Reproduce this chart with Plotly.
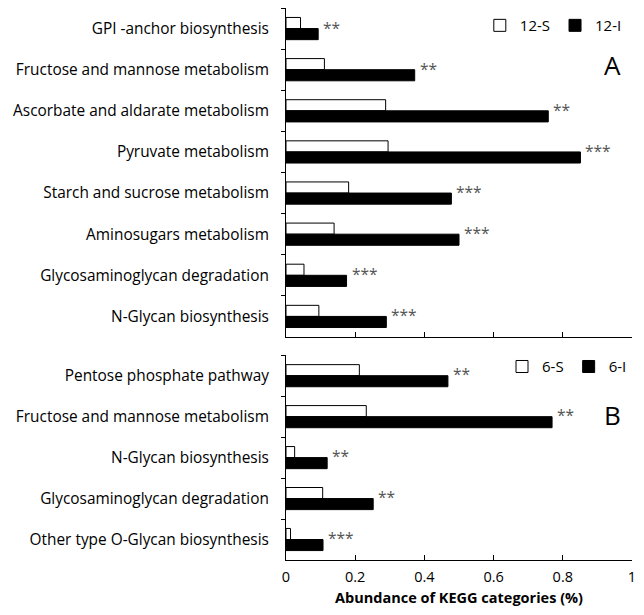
import plotly.graph_objects as go
from plotly.subplots import make_subplots

# Panel A data
cats_a = ["GPI -anchor biosynthesis", "Fructose and mannose metabolism",
          "Ascorbate and aldarate metabolism", "Pyruvate metabolism",
          "Starch and sucrose metabolism", "Aminosugars metabolism",
          "Glycosaminoglycan degradation", "N-Glycan biosynthesis"]
s12 = [0.042, 0.111, 0.288, 0.295, 0.181, 0.139, 0.052, 0.095]
i12 = [0.093, 0.372, 0.758, 0.851, 0.478, 0.500, 0.175, 0.290]
sig_a = ["**", "**", "**", "***", "***", "***", "***", "***"]

# Panel B data
cats_b = ["Pentose phosphate pathway", "Fructose and mannose metabolism",
          "N-Glycan biosynthesis", "Glycosaminoglycan degradation",
          "Other type O-Glycan biosynthesis"]
s6 = [0.212, 0.232, 0.025, 0.106, 0.013]
i6 = [0.468, 0.769, 0.119, 0.252, 0.107]
sig_b = ["**", "**", "**", "**", "***"]

xticks = [0, 0.2, 0.4, 0.6, 0.8, 1]
xtick_text = ["0", "0.2", "0.4", "0.6", "0.8", "1"]

FONT = "Open Sans"

fig = make_subplots(rows=2, cols=1, shared_xaxes=False, vertical_spacing=0.03,
                    row_heights=[8, 5])

fig.add_trace(go.Bar(y=cats_a, x=s12, orientation="h", name="12-S",
                     marker=dict(color="white", line=dict(color="black", width=1)),
                     legend="legend"), row=1, col=1)
fig.add_trace(go.Bar(y=cats_a, x=i12, orientation="h", name="12-I",
                     marker=dict(color="black", line=dict(color="black", width=1)),
                     legend="legend"), row=1, col=1)
fig.add_trace(go.Bar(y=cats_b, x=s6, orientation="h", name="6-S",
                     marker=dict(color="white", line=dict(color="black", width=1)),
                     legend="legend2"), row=2, col=1)
fig.add_trace(go.Bar(y=cats_b, x=i6, orientation="h", name="6-I",
                     marker=dict(color="black", line=dict(color="black", width=1)),
                     legend="legend2"), row=2, col=1)

for c, v, s in zip(cats_a, i12, sig_a):
    fig.add_annotation(x=v, y=c, text=s, xref="x", yref="y", showarrow=False,
                       xanchor="left", xshift=3, yshift=1,
                       font=dict(family=FONT, size=15.5, color="#555"))
for c, v, s in zip(cats_b, i6, sig_b):
    fig.add_annotation(x=v, y=c, text=s, xref="x2", yref="y2", showarrow=False,
                       xanchor="left", xshift=3, yshift=2,
                       font=dict(family=FONT, size=15.5, color="#555"))

fig.add_annotation(x=0.975, y=1.0, xref="paper", yref="paper", text="A",
                   showarrow=False, xanchor="right", yanchor="top", yshift=-37,
                   font=dict(family=FONT, size=26, color="black"))
fig.add_annotation(x=0.975, y=0.371, xref="paper", yref="paper", text="B",
                   showarrow=False, xanchor="right", yanchor="top", yshift=-40,
                   font=dict(family=FONT, size=26, color="black"))

axis_common = dict(showline=True, linecolor="black", linewidth=1, showgrid=False,
                   zeroline=False, automargin=False)
fig.update_xaxes(range=[0, 1], tickvals=xticks, ticktext=xtick_text, ticks="inside",
                 ticklen=5, tickcolor="black", ticklabeloverflow="allow", **axis_common)
fig.update_xaxes(showticklabels=False, row=1, col=1)
fig.update_xaxes(showticklabels=True, row=2, col=1, ticklabelstandoff=4,
                 tickfont=dict(family=FONT, size=14.5, color="black"),
                 title=dict(text="<b>Abundance of KEGG categories (%)</b>",
                            font=dict(family=FONT, size=14.5, color="black"),
                            standoff=10))
fig.update_yaxes(autorange="reversed", ticks="outside", ticklen=4, tickcolor="black",
                 tickson="boundaries", tickfont=dict(family=FONT, size=15.4, color="black"),
                 ticklabelstandoff=13, **axis_common)

fig.update_layout(
    width=636, height=599,
    margin=dict(l=278, r=12, t=0, b=47),
    paper_bgcolor="white", plot_bgcolor="white",
    barmode="group", bargap=0.46, bargroupgap=0,
    font=dict(family=FONT, color="black"),
    yaxis=dict(domain=[0.404, 1.0]),
    yaxis2=dict(domain=[0.0, 0.371]),
    legend=dict(orientation="h", x=0.985, xanchor="right", y=0.998, yanchor="top",
                font=dict(family=FONT, size=15), bgcolor="rgba(0,0,0,0)",
                itemwidth=30, traceorder="normal"),
    legend2=dict(orientation="h", x=1.0, xanchor="right", y=0.38, yanchor="top",
                 font=dict(family=FONT, size=15), bgcolor="rgba(0,0,0,0)",
                 itemwidth=30, traceorder="normal"),
)

fig.write_html("out.html")
